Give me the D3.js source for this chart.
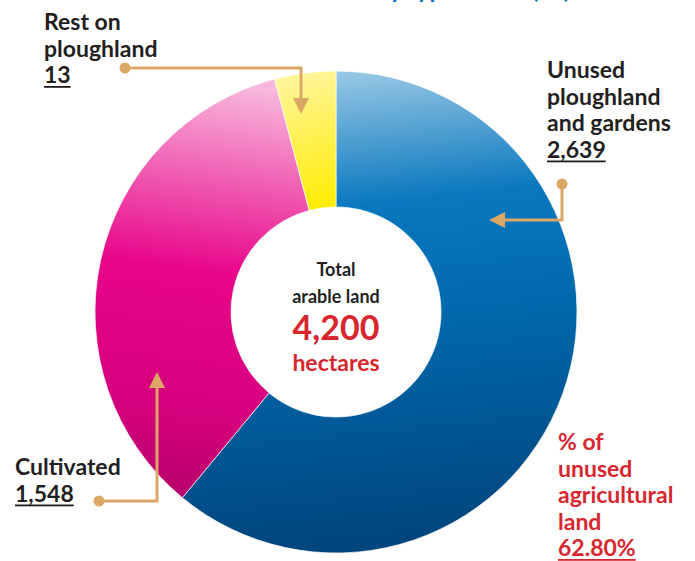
<!DOCTYPE html>
<html>
<head>
<meta charset="utf-8">
<script src="https://cdn.jsdelivr.net/npm/d3@7"></script>
<style>
  body { margin: 0; background: #fff; }
  svg { display: block; font-family: Lato, "Open Sans", sans-serif; font-weight: bold; }
</style>
</head>
<body>
<svg width="695" height="561"></svg>
<script>
// categories and values (values are the printed labels)
const categories = ["Unused ploughland and gardens", "Cultivated", "Rest on ploughland"];
const values = [2639, 1548, 13];
// share of the circle each slice takes in the picture (%)
const sliceShares = [61.0, 34.9, 4.1];
const total = 4200;
const unusedShare = "62.80%";

const svg = d3.select("svg"),
    cx = 336, cy = 312,
    outerR = 241, innerR = 105;

const defs = svg.append("defs");

// gradient coords are given in page pixels, shifted into the donut group's space
function linGrad(id, x1, y1, x2, y2, stops) {
    const g = defs.append("linearGradient")
        .attr("id", id)
        .attr("gradientUnits", "userSpaceOnUse")
        .attr("x1", x1 - cx).attr("y1", y1 - cy).attr("x2", x2 - cx).attr("y2", y2 - cy);
    stops.forEach(s => g.append("stop").attr("offset", s[0]).attr("stop-color", s[1]));
}

linGrad("gBlue", 330, 70, 380, 555, [[0, "#9ccae6"], [0.28, "#0a78be"], [0.55, "#0066aa"], [1, "#00437a"]]);
linGrad("gPink", 230, 85, 170, 500, [[0, "#f8b7dc"], [0.45, "#e8058a"], [0.8, "#d4007c"], [1, "#b5006a"]]);
linGrad("gYellow", 285, 75, 325, 210, [[0, "#fff59e"], [1, "#ffec00"]]);

const fills = ["url(#gBlue)", "url(#gPink)", "url(#gYellow)"];

// title above, mostly cut off at the top edge as in the source
svg.append("text")
    .attr("x", 410).attr("y", -2)
    .attr("text-anchor", "middle")
    .attr("fill", "#0070c0")
    .attr("font-size", 24)
    .text("Arable land by type of use (ha)");

const pie = d3.pie().sort(null).value(d => d);
const arc = d3.arc().innerRadius(innerR).outerRadius(outerR);

const g = svg.append("g").attr("transform", `translate(${cx},${cy})`);
g.selectAll("path")
    .data(pie(sliceShares))
    .enter().append("path")
    .attr("d", arc)
    .attr("fill", (d, i) => fills[i])
    .attr("stroke", "#fff")
    .attr("stroke-width", 0.7);

// center text
const fmt = d3.format(",");
const center = svg.append("g").attr("text-anchor", "middle");
center.append("text").attr("x", cx).attr("y", 276).attr("font-size", 18).attr("fill", "#231f20").text("Total");
center.append("text").attr("x", cx).attr("y", 303).attr("font-size", 18).attr("fill", "#231f20").text("arable land");
center.append("text").attr("x", cx).attr("y", 340).attr("font-size", 34).attr("fill", "#d7262e").text(fmt(total));
center.append("text").attr("x", cx).attr("y", 371).attr("font-size", 23).attr("fill", "#d7262e").text("hectares");

// leader lines
const lineColor = "#dba764";
function leader(points, dot) {
    svg.append("path")
        .attr("d", d3.line()(points))
        .attr("fill", "none")
        .attr("stroke", lineColor)
        .attr("stroke-width", 3);
    svg.append("circle").attr("cx", dot[0]).attr("cy", dot[1]).attr("r", 5.5).attr("fill", lineColor);
}
function arrowHead(tip, dir) {
    const L = 16, W = 8;
    let pts;
    if (dir === "down") pts = [[tip[0], tip[1]], [tip[0] - W, tip[1] - L], [tip[0] + W, tip[1] - L]];
    if (dir === "up") pts = [[tip[0], tip[1]], [tip[0] - W, tip[1] + L], [tip[0] + W, tip[1] + L]];
    if (dir === "left") pts = [[tip[0], tip[1]], [tip[0] + L, tip[1] - W], [tip[0] + L, tip[1] + W]];
    svg.append("path").attr("d", d3.line()(pts) + "Z").attr("fill", lineColor);
}

leader([[125, 68], [301, 68], [301, 100]], [125, 68]);
arrowHead([301, 114], "down");
leader([[562, 184], [562, 220], [502, 220]], [562, 184]);
arrowHead([489, 220], "left");
leader([[99, 501], [157, 501], [157, 386]], [99, 501]);
arrowHead([157, 372], "up");

// labels
function label(x, y0, lines, value, color) {
    const t = svg.append("g").attr("font-size", 23).attr("fill", color);
    lines.forEach((l, i) => t.append("text").attr("x", x).attr("y", y0 + i * 26.5).text(l));
    const vy = y0 + lines.length * 26.5;
    const vt = t.append("text").attr("x", x).attr("y", vy).text(value);
    const w = vt.node().getComputedTextLength();
    t.append("rect").attr("x", x).attr("y", vy + 3).attr("width", w).attr("height", 1.8).attr("fill", color);
}

label(44, 30, ["Rest on", "ploughland"], fmt(values[2]), "#231f20");
label(547, 78, ["Unused", "ploughland", "and gardens"], fmt(values[0]), "#231f20");
label(15, 475, ["Cultivated"], fmt(values[1]), "#231f20");
label(558, 450, ["% of", "unused", "agricultural", "land"], unusedShare, "#d7262e");
</script>
</body>
</html>
